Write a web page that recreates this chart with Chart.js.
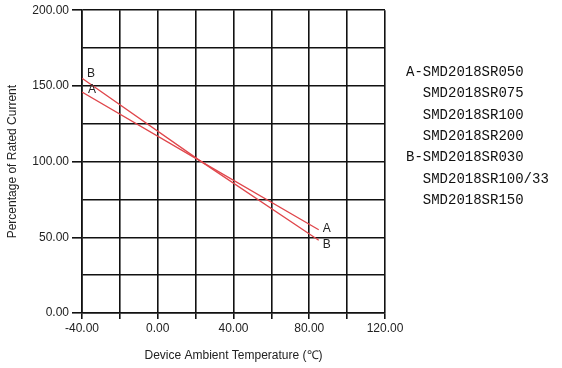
<!DOCTYPE html>
<html>
<head>
<meta charset="utf-8">
<script src="https://cdn.jsdelivr.net/npm/chart.js@4.4.0/dist/chart.umd.min.js"></script>
<style>
  html, body { margin: 0; padding: 0; background: #fff; }
  #wrap { width: 562px; height: 368px; position: relative; }
</style>
</head>
<body>
<div id="wrap"><canvas id="derating"></canvas></div>
<script>
// data
const temps = [-40, 23, 85];
const curveA = [146, 100, 55];
const curveB = [155, 100, 48];
const legendLines = [
  'A-SMD2018SR050',
  '  SMD2018SR075',
  '  SMD2018SR100',
  '  SMD2018SR200',
  'B-SMD2018SR030',
  '  SMD2018SR100/33',
  '  SMD2018SR150'
];

const lineColor = '#e0474c';
const sansFont = '"Liberation Sans", Arial, sans-serif';

// label A / B di ujung garis + teks daftar part di kanan
const curveLabels = {
  id: 'curveLabels',
  afterDatasetsDraw(chart) {
    const ctx = chart.ctx;
    const x = chart.scales.x;
    const y = chart.scales.y;
    ctx.save();
    ctx.fillStyle = '#222';
    ctx.font = '12px ' + sansFont;
    ctx.textAlign = 'left';
    ctx.textBaseline = 'middle';
    // kiri
    ctx.fillText('B', x.getPixelForValue(temps[0]) + 5, y.getPixelForValue(curveB[0]) - 5);
    ctx.fillText('A', x.getPixelForValue(temps[0]) + 6, y.getPixelForValue(curveA[0]) - 2);
    // kanan
    const last = temps.length - 1;
    ctx.fillText('A', x.getPixelForValue(temps[last]) + 4, y.getPixelForValue(curveA[last]) - 1);
    ctx.fillText('B', x.getPixelForValue(temps[last]) + 4, y.getPixelForValue(curveB[last]) + 4);

    // daftar part
    ctx.font = '14px "Liberation Mono", "DejaVu Sans Mono", monospace';
    ctx.fillStyle = '#111';
    legendLines.forEach((t, i) => {
      ctx.fillText(t, 406, 72 + i * 21.4);
    });
    ctx.restore();
  }
};

const ctx = document.getElementById('derating').getContext('2d');
new Chart(ctx, {
  type: 'line',
  data: {
    datasets: [{
      label: 'A',
      data: temps.map((t, i) => ({ x: t, y: curveA[i] })),
      borderColor: lineColor,
      borderWidth: 1.3,
      pointRadius: 0,
      tension: 0
    }, {
      label: 'B',
      data: temps.map((t, i) => ({ x: t, y: curveB[i] })),
      borderColor: lineColor,
      borderWidth: 1.3,
      pointRadius: 0,
      tension: 0
    }]
  },
  options: {
    responsive: true,
    maintainAspectRatio: false,
    animation: false,
    layout: {
      padding: { left: 0, right: 177, top: 10, bottom: 0 }
    },
    plugins: {
      legend: { display: false },
      tooltip: { enabled: false }
    },
    scales: {
      x: {
        type: 'linear',
        min: -40,
        max: 120,
        border: { color: '#111', width: 1.6 },
        grid: {
          color: '#111',
          lineWidth: 1.6,
          tickLength: 6,
          tickColor: '#111'
        },
        ticks: {
          stepSize: 20,
          autoSkip: false,
          maxRotation: 0,
          color: '#222',
          padding: 2,
          font: { family: sansFont, size: 12 },
          callback: function(value) {
            return value % 40 === 0 ? value.toFixed(2) : '';
          }
        },
        title: {
          display: true,
          text: 'Device Ambient Temperature (℃)',
          color: '#222',
          font: { family: sansFont, size: 12 },
          padding: { top: 4, bottom: 5 }
        },
        afterFit: function(scale) {
          scale.height = 55;
        }
      },
      y: {
        min: 0,
        max: 200,
        border: { color: '#111', width: 1.6 },
        grid: {
          color: '#111',
          lineWidth: 1.6,
          tickLength: 10,
          tickColor: function(c) {
            return c.tick && c.tick.value % 50 === 0 ? '#111' : 'rgba(0,0,0,0)';
          }
        },
        ticks: {
          stepSize: 25,
          autoSkip: false,
          color: '#222',
          padding: 3,
          font: { family: sansFont, size: 12 },
          callback: function(value) {
            return value % 50 === 0 ? value.toFixed(2) : '';
          }
        },
        title: {
          display: true,
          text: 'Percentage of Rated Current',
          color: '#222',
          font: { family: sansFont, size: 12 },
          padding: { top: 5, bottom: 0 }
        },
        afterFit: function(scale) {
          scale.width = 82;
        }
      }
    }
  },
  plugins: [curveLabels]
});
</script>
</body>
</html>
